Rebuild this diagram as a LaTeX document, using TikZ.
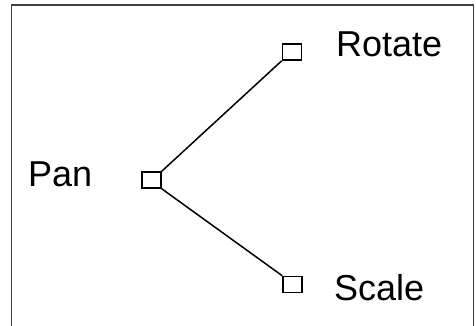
\documentclass[tikz,border=0pt]{standalone}
\usepackage{fontspec}
\setmainfont{Liberation Sans}
\begin{document}
\begin{tikzpicture}[x=1pt,y=-1pt,
  handle/.style={draw=black, line width=1.6pt, rectangle, minimum width=19pt, minimum height=16pt, inner sep=0pt},
  label/.style={anchor=base west, inner sep=0pt, font=\fontsize{36}{40}\selectfont},
  link/.style={draw=black, line width=1.5pt},
  frame/.style={draw=black!75, line width=1.5pt}]
\useasboundingbox (0,0) rectangle (476,325);
\draw[frame] (11.7,330) -- (11.7,5) -- (473.3,5) -- (473.3,330);
\node[handle] (pan) at (151.5,180) {};
\node[handle] (rot) at (292,52) {};
\node[handle] (scl) at (292.5,284.5) {};
\node[label] (panl) at (28,186) {Pan};
\node[label] (rotl) at (336,56.5) {Rotate};
\node[label] (scll) at (334,300) {Scale};
\draw[link] (pan.north east) -- (rot.south west);
\draw[link] (pan.south east) -- (scl.north west);
\end{tikzpicture}
\end{document}
